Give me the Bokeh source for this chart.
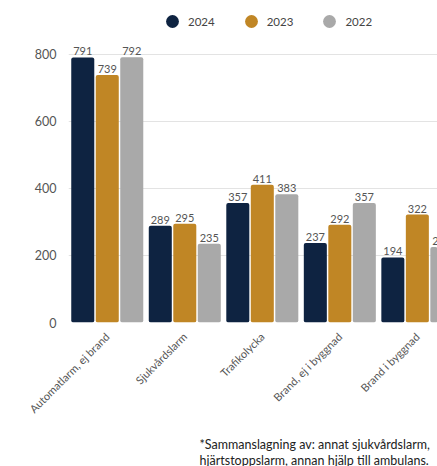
import math
from bokeh.plotting import figure
from bokeh.models import (Range1d, FixedTicker, Legend, LegendItem, Title,
                          ColumnDataSource, LabelSet)
from bokeh.transform import dodge
from bokeh.embed import file_html
from bokeh.resources import INLINE
from bokeh.core.properties import value

categories = ["Automatlarm, ej brand", "Sjukvårdslarm", "Trafikolycka",
              "Brand, ej i byggnad", "Brand i byggnad"]
years = ["2024", "2023", "2022"]
v2024 = [791, 289, 357, 237, 194]
v2023 = [739, 295, 411, 292, 322]
v2022 = [792, 235, 383, 357, 225]
y_ticks = [0, 200, 400, 600, 800]
footnote = ["*Sammanslagning av: annat sjukvårdslarm,",
            "hjärtstoppslarm, annan hjälp till ambulans."]
colors = ["#0e2341", "#c08625", "#a9a9a9"]

FONT = "Lato"
TXT = "#555555"

xs = [i + 0.5 for i in range(len(categories))]
series = [v2024, v2023, v2022]
data = dict(x=xs)
for yr, vals in zip(years, series):
    data["v" + yr] = vals
    data["l" + yr] = [str(v) for v in vals]
src = ColumnDataSource(data)

p = figure(width=437, height=466, x_range=Range1d(0, 4.76), y_range=Range1d(0, 961),
           output_backend="svg", toolbar_location=None,
           min_border_left=68, min_border_right=0, min_border_top=0,
           min_border_bottom=144)
p.outline_line_color = None
p.background_fill_color = "white"
p.border_fill_color = "white"

offsets = [-0.316, 0.0, 0.316]
for yr, off, c in zip(years, offsets, colors):
    p.vbar(x=dodge("x", off, range=p.x_range), top="v" + yr, bottom=0, width=0.297,
           source=src, fill_color=c, line_color=None, border_radius=2)
    p.add_layout(LabelSet(x=dodge("x", off, range=p.x_range), y="v" + yr, text="l" + yr,
                          source=src, y_offset=2, text_align="center",
                          text_baseline="bottom", text_font=value(FONT),
                          text_font_size="11px", text_color=TXT))

# legend (glyph-only renderers, no visible data)
items = []
nan = float("nan")
for yr, c in zip(years, colors):
    r = p.scatter(x=[nan], y=[nan], marker="circle", fill_color=c, line_color=None)
    items.append(LegendItem(label=yr, renderers=[r]))
legend = Legend(items=items, orientation="horizontal", location=(88, 285),
                glyph_width=32, glyph_height=32, label_standoff=-11, spacing=20,
                padding=0, margin=0, border_line_color=None, background_fill_alpha=0,
                label_text_font=FONT, label_text_font_size="11.5px",
                label_text_color="#444444")
p.add_layout(legend)

# axes
p.yaxis.ticker = FixedTicker(ticks=y_ticks)
p.yaxis.axis_line_color = None
p.yaxis.major_tick_line_color = None
p.yaxis.minor_tick_line_color = None
p.yaxis.major_label_standoff = 6
p.yaxis.major_label_text_font = FONT
p.yaxis.major_label_text_font_size = "12.5px"
p.yaxis.major_label_text_color = TXT

p.xaxis.ticker = FixedTicker(ticks=xs)
p.xaxis.major_label_overrides = {x: c for x, c in zip(xs, categories)}
p.xaxis.major_label_orientation = math.pi / 4
p.xaxis.axis_line_color = None
p.xaxis.major_tick_line_color = None
p.xaxis.minor_tick_line_color = None
p.xaxis.major_label_standoff = 6
p.xaxis.major_label_text_font = FONT
p.xaxis.major_label_text_font_size = "11px"
p.xaxis.major_label_text_color = TXT

p.xgrid.visible = False
p.ygrid.ticker = FixedTicker(ticks=y_ticks)
p.ygrid.grid_line_color = "#e3e3e3"

# footnote: a leading empty line reserves room so the text sits low in the panel
p.add_layout(Title(text="\n" + "\n".join(footnote), align="left", offset=131, standoff=-6,
                   text_font=FONT, text_font_size="12.5px", text_font_style="normal",
                   text_line_height=1.07, text_color="#222222"), "below")

open("out.html", "w").write(file_html(p, INLINE))
